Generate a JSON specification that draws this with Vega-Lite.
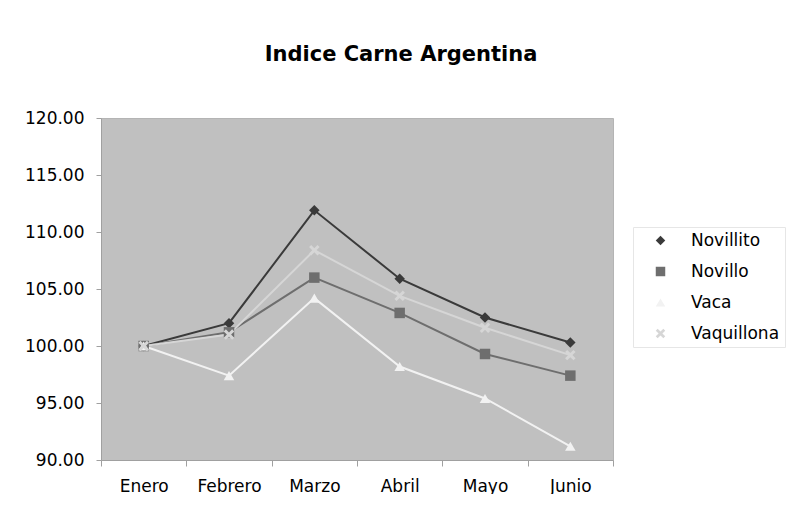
{
  "$schema": "https://vega.github.io/schema/vega-lite/v6.json",
  "width": 512,
  "height": 342,
  "padding": {"left": 24, "top": 44, "right": 0, "bottom": 0},
  "background": "white",
  "title": {"text": "Indice Carne Argentina", "font": "DejaVu Sans", "fontSize": 21, "fontWeight": "bold", "color": "#000000", "offset": 44, "anchor": "middle", "dx": 44},
  "config": {
    "view": {"fill": "#c0c0c0", "stroke": "#b4b4b4", "strokeWidth": 1},
    "axis": {"labelFont": "DejaVu Sans", "labelFontSize": 17, "labelColor": "#000000", "domainColor": "#a0a0a0", "tickColor": "#a0a0a0", "grid": false, "title": null}
  },
  "data": {"values": [
    {"mes": "Enero", "serie": "Novillito", "valor": 100.0},
    {"mes": "Febrero", "serie": "Novillito", "valor": 102.0},
    {"mes": "Marzo", "serie": "Novillito", "valor": 111.9},
    {"mes": "Abril", "serie": "Novillito", "valor": 105.9},
    {"mes": "Mayo", "serie": "Novillito", "valor": 102.5},
    {"mes": "Junio", "serie": "Novillito", "valor": 100.3},
    {"mes": "Enero", "serie": "Novillo", "valor": 100.0},
    {"mes": "Febrero", "serie": "Novillo", "valor": 101.2},
    {"mes": "Marzo", "serie": "Novillo", "valor": 106.0},
    {"mes": "Abril", "serie": "Novillo", "valor": 102.9},
    {"mes": "Mayo", "serie": "Novillo", "valor": 99.3},
    {"mes": "Junio", "serie": "Novillo", "valor": 97.4},
    {"mes": "Enero", "serie": "Vaca", "valor": 100.0},
    {"mes": "Febrero", "serie": "Vaca", "valor": 97.4},
    {"mes": "Marzo", "serie": "Vaca", "valor": 104.2},
    {"mes": "Abril", "serie": "Vaca", "valor": 98.2},
    {"mes": "Mayo", "serie": "Vaca", "valor": 95.4},
    {"mes": "Junio", "serie": "Vaca", "valor": 91.2},
    {"mes": "Enero", "serie": "Vaquillona", "valor": 100.0},
    {"mes": "Febrero", "serie": "Vaquillona", "valor": 101.0},
    {"mes": "Marzo", "serie": "Vaquillona", "valor": 108.4},
    {"mes": "Abril", "serie": "Vaquillona", "valor": 104.4},
    {"mes": "Mayo", "serie": "Vaquillona", "valor": 101.6},
    {"mes": "Junio", "serie": "Vaquillona", "valor": 99.2}
  ]},
  "encoding": {
    "x": {"field": "mes", "type": "ordinal", "sort": ["Enero", "Febrero", "Marzo", "Abril", "Mayo", "Junio"],
          "bandPosition": 0.5,
          "scale": {"type": "band", "paddingInner": 0, "paddingOuter": 0},
          "axis": {"labelAngle": 0, "tickBand": "extent", "tickSize": 6, "labelPadding": 12}},
    "y": {"field": "valor", "type": "quantitative",
          "scale": {"domain": [90, 120], "nice": false, "zero": false},
          "axis": {"values": [90, 95, 100, 105, 110, 115, 120], "format": ".2f", "tickSize": 5, "labelPadding": 12}},
    "color": {"field": "serie", "type": "nominal",
              "scale": {"domain": ["Novillito", "Novillo", "Vaca", "Vaquillona"], "range": ["#3a3a3a", "#6e6e6e", "#f2f2f2", "#d6d6d6"]},
              "legend": {"orient": "none", "legendX": 532, "legendY": 109, "title": null, "labelFont": "DejaVu Sans", "labelFontSize": 17, "labelColor": "#000000", "symbolSize": 90, "rowPadding": 13, "padding": 5, "strokeColor": "#e6e6e6", "symbolOffset": 14, "labelOffset": 22, "symbolStrokeWidth": 0}}
  },
  "layer": [
    {"mark": {"type": "line", "strokeWidth": 2}},
    {"mark": {"type": "point", "filled": true, "size": 110, "opacity": 1},
     "encoding": {"shape": {"field": "serie", "type": "nominal",
        "scale": {"domain": ["Novillito", "Novillo", "Vaca", "Vaquillona"], "range": ["diamond", "square", "triangle-up", "M-1,-0.6L-0.6,-1L0,-0.4L0.6,-1L1,-0.6L0.4,0L1,0.6L0.6,1L0,0.4L-0.6,1L-1,0.6L-0.4,0Z"]}}}}
  ]
}
